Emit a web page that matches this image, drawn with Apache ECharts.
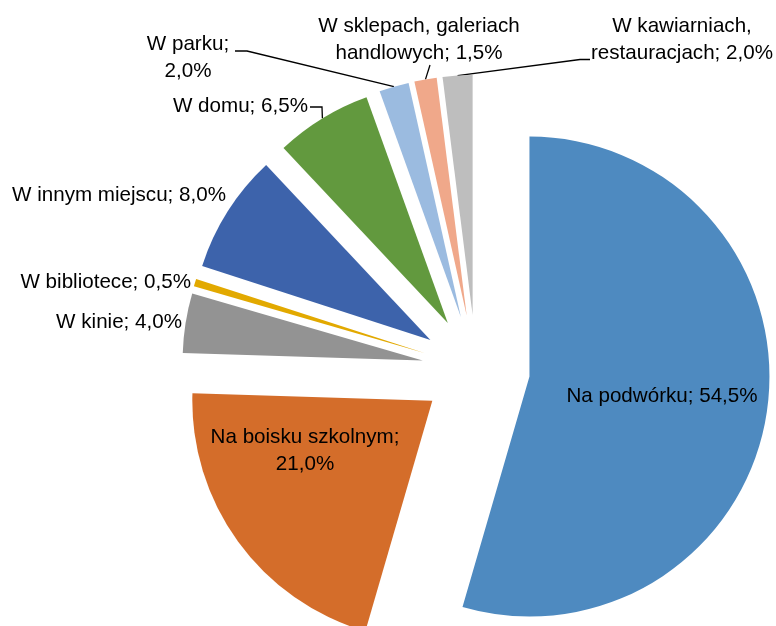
<!DOCTYPE html>
<html>
<head>
<meta charset="utf-8">
<script src="https://cdn.jsdelivr.net/npm/echarts@6/dist/echarts.min.js"></script>
<style>
  html, body { margin: 0; padding: 0; background: #ffffff; }
  #chart { width: 776px; height: 626px; }
</style>
</head>
<body>
<div id="chart"></div>
<script>
// Where pupils spend their free time (share of answers, %)
const categories = [
  'Na podwórku',
  'Na boisku szkolnym',
  'W kinie',
  'W bibliotece',
  'W innym miejscu',
  'W domu',
  'W parku',
  'W sklepach, galeriach\nhandlowych',
  'W kawiarniach,\nrestauracjach'
];
const shares = [54.5, 21.0, 4.0, 0.5, 8.0, 6.5, 2.0, 1.5, 2.0];
const sliceColors = ['#4E8AC0', '#D46D2A', '#939393', '#E2A900', '#3D63AB', '#62993E', '#9BBBE0', '#F0A88A', '#BEBEBE'];
// labels whose value goes on its own line
const valueOnNewLine = [1, 6];

// label anchors (text position, alignment) and optional leader-line bends
const labelPlacement = [
  { x: 662, y: 396, align: 'center' },
  { x: 305, y: 451, align: 'center' },
  { x: 182, y: 322, align: 'right' },
  { x: 191, y: 282, align: 'right' },
  { x: 226, y: 195, align: 'right' },
  { x: 308, y: 106, align: 'right', line: [[322, 107], [310, 107]] },
  { x: 188, y: 58, align: 'center', line: [[247, 51], [235, 51]] },
  { x: 419, y: 40, align: 'center', line: [[430, 65]] },
  { x: 682, y: 40, align: 'center', line: [[580, 59.5], [590, 59.5]] }
];

const pieCenter = [476, 369];
const pieRadius = 240;
const explodeDistance = 54;

const fmtPct = v => v.toFixed(1).replace('.', ',') + '%';
const total = shares.reduce((a, b) => a + b, 0);

// every slice is pulled out from the centre along its own bisector;
// each slice gets its own pie layer (same data, only that slice painted)
const series = shares.map((share, k) => {
  const before = shares.slice(0, k).reduce((a, b) => a + b, 0);
  const mid = (before + share / 2) / total * 2 * Math.PI; // clockwise from 12 o'clock
  const cx = pieCenter[0] + explodeDistance * Math.sin(mid);
  const cy = pieCenter[1] - explodeDistance * Math.cos(mid);
  const cfg = labelPlacement[k];
  return {
    type: 'pie',
    center: [cx, cy],
    radius: pieRadius,
    startAngle: 90,
    clockwise: true,
    avoidLabelOverlap: false,
    silent: true,
    emphasis: { disabled: true },
    label: {
      fontFamily: '"Liberation Sans", Arial, sans-serif',
      fontSize: 20.6,
      color: '#000000',
      lineHeight: 27,
      formatter: p => p.name + ';' + (valueOnNewLine.includes(p.dataIndex) ? '\n' : ' ') + fmtPct(p.value)
    },
    labelLine: {
      length: 10,
      length2: 10,
      lineStyle: { color: '#000000', width: 1.3 }
    },
    labelLayout: params => {
      if (params.dataIndex !== k) return {};
      const out = { x: cfg.x, y: cfg.y, align: cfg.align, verticalAlign: 'middle', hideOverlap: false, moveOverlap: false };
      if (cfg.line && params.labelLinePoints) {
        out.labelLinePoints = [params.labelLinePoints[0]].concat(cfg.line);
      }
      return out;
    },
    data: categories.map((name, i) => ({
      name: name,
      value: shares[i],
      itemStyle: i === k ? { color: sliceColors[i], borderWidth: 0 } : { color: 'rgba(0,0,0,0)', borderWidth: 0 },
      label: { show: i === k, position: i < 2 ? 'inside' : 'outside' },
      labelLine: { show: i === k && !!cfg.line }
    }))
  };
});

const chart = echarts.init(document.getElementById('chart'), null, { renderer: 'canvas' });
chart.setOption({
  animation: false,
  backgroundColor: '#ffffff',
  series: series
});
</script>
</body>
</html>
